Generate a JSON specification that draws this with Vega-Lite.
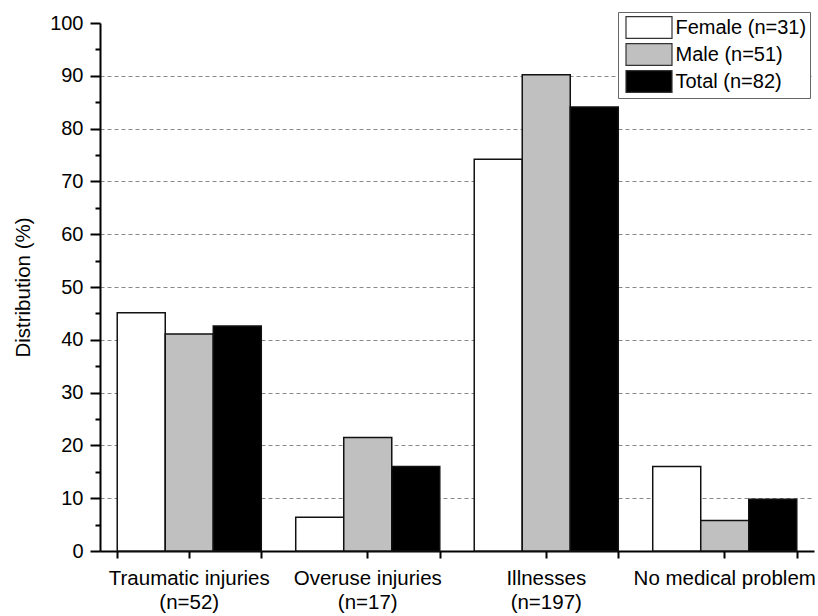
{
  "$schema": "https://vega.github.io/schema/vega-lite/v6.json",
  "width": 714,
  "height": 528,
  "autosize": {"type": "none"},
  "padding": {"left": 100, "top": 23, "right": 4, "bottom": 65},
  "background": "white",
  "config": {
    "font": "Liberation Sans",
    "view": {"stroke": null},
    "axis": {"labelFont": "Liberation Sans", "titleFont": "Liberation Sans", "labelColor": "#000", "titleColor": "#000", "domainColor": "#000", "tickColor": "#000"}
  },
  "data": {
    "values": [
      {"category": "Traumatic injuries (n=52)", "group": "Female (n=31)", "value": 45.1},
      {"category": "Traumatic injuries (n=52)", "group": "Male (n=51)", "value": 41.1},
      {"category": "Traumatic injuries (n=52)", "group": "Total (n=82)", "value": 42.6},
      {"category": "Overuse injuries (n=17)", "group": "Female (n=31)", "value": 6.4},
      {"category": "Overuse injuries (n=17)", "group": "Male (n=51)", "value": 21.5},
      {"category": "Overuse injuries (n=17)", "group": "Total (n=82)", "value": 16.0},
      {"category": "Illnesses (n=197)", "group": "Female (n=31)", "value": 74.2},
      {"category": "Illnesses (n=197)", "group": "Male (n=51)", "value": 90.2},
      {"category": "Illnesses (n=197)", "group": "Total (n=82)", "value": 84.1},
      {"category": "No medical problem", "group": "Female (n=31)", "value": 16.0},
      {"category": "No medical problem", "group": "Male (n=51)", "value": 5.8},
      {"category": "No medical problem", "group": "Total (n=82)", "value": 9.8}
    ]
  },
  "layer": [
    {
      "mark": {"type": "bar", "stroke": "#111", "strokeWidth": 1.5},
      "encoding": {
        "x": {
          "field": "category", "type": "nominal", "sort": null,
          "scale": {"paddingInner": 0.193, "paddingOuter": 0.0965},
          "axis": {
            "orient": "bottom", "title": null, "labelAngle": 0, "labelLimit": 400,
            "labelExpr": "indexof(datum.label, ' (') < 0 ? datum.label : [slice(datum.label, 0, indexof(datum.label, ' (')), slice(datum.label, indexof(datum.label, ' (') + 1)]",
            "labelFontSize": 20.5, "labelPadding": 10, "labelLineHeight": 24,
            "domainWidth": 2, "tickWidth": 2, "tickSize": 7
          }
        },
        "xOffset": {"field": "group", "type": "nominal", "sort": ["Female (n=31)", "Male (n=51)", "Total (n=82)"], "scale": {"paddingInner": 0, "paddingOuter": 0}},
        "y": {
          "field": "value", "type": "quantitative",
          "scale": {"domain": [0, 100], "nice": false},
          "axis": {
            "title": "Distribution (%)", "titleFontSize": 20.5, "titleFontWeight": "normal", "titlePadding": 16,
            "values": [0, 5, 10, 15, 20, 25, 30, 35, 40, 45, 50, 55, 60, 65, 70, 75, 80, 85, 90, 95, 100],
            "labelExpr": "datum.value % 10 === 0 ? datum.label : ''",
            "labelOverlap": false, "labelFontSize": 20, "labelPadding": 7,
            "domainWidth": 2, "tickWidth": 2,
            "tickSize": {"condition": {"test": "datum.value % 10 === 0", "value": 10}, "value": 5},
            "grid": true, "gridColor": "#888", "gridDash": [4, 3], "gridWidth": 1,
            "gridOpacity": {"condition": {"test": "datum.value % 10 === 0 && datum.value > 0 && datum.value < 100", "value": 1}, "value": 0}
          }
        },
        "fill": {
          "field": "group", "type": "nominal",
          "scale": {"domain": ["Female (n=31)", "Male (n=51)", "Total (n=82)"], "range": ["#ffffff", "#c0c0c0", "#000000"]},
          "legend": {
            "title": null, "orient": "none", "legendX": 518, "legendY": -11,
            "symbolType": "M-2,-0.95H2V0.95H-2Z", "symbolSize": 529, "symbolOffset": 15.5,
            "symbolStrokeColor": "#333", "symbolStrokeWidth": 1.2, "symbolOpacity": 1,
            "labelFontSize": 20, "labelFont": "Liberation Sans", "labelColor": "#000", "labelOffset": 14, "labelLimit": 300,
            "rowPadding": 0, "padding": 3, "strokeColor": "#666", "fillColor": "white"
          }
        }
      }
    },
    {
      "mark": {"type": "rule", "opacity": 0},
      "encoding": {
        "x": {
          "field": "category", "type": "nominal", "sort": null,
          "axis": {"orient": "bottom", "title": null, "labels": false, "domain": false, "grid": false, "tickBand": "extent", "tickWidth": 2, "tickSize": 7}
        }
      }
    }
  ],
  "resolve": {"axis": {"x": "independent"}}
}
